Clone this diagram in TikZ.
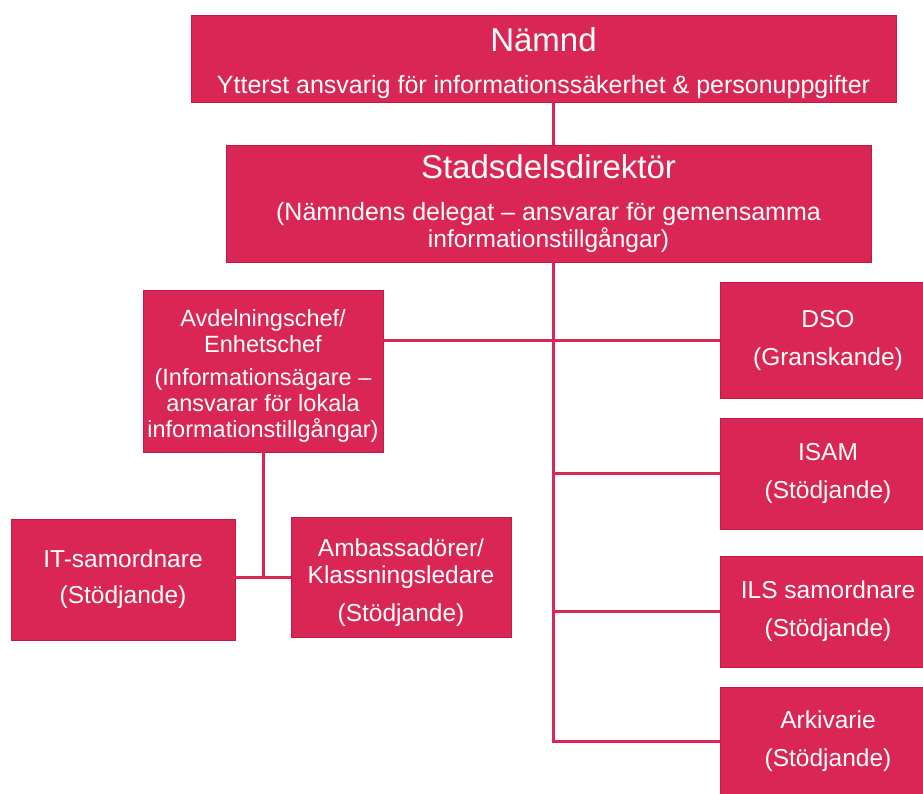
\documentclass[tikz,border=0pt]{standalone}
\usepackage{fontspec}
\setmainfont{Liberation Sans}
\usetikzlibrary{positioning}

\definecolor{orgred}{RGB}{218,38,84}
\definecolor{orgedge}{RGB}{196,24,68}

\newcommand{\toptitle}{\fontsize{33}{38}\selectfont}

\tikzset{
  orgbox/.style={fill=orgred, draw=orgedge, line width=0.8pt, text=white,
    align=center, inner sep=0pt, font=\fontsize{24.5}{27}\selectfont},
  sidebox/.style={orgbox, minimum width=216pt, font=\fontsize{24.5}{38}\selectfont},
  orgline/.style={draw=orgred, line width=3pt}
}

\begin{document}
\begin{tikzpicture}[x=1pt, y=-1pt]

  \useasboundingbox (0,0) rectangle (923,793);
  \clip (0,0) rectangle (923,793);
  \fill[white] (0,0) rectangle (923,793);

  % -- Top levels --
  \node[orgbox, minimum width=705pt, minimum height=87pt] (nmd) at (543.5,58.5)
    {\rule{0pt}{33pt}{\toptitle N\"amnd}\\[15pt]\fontsize{25}{28}\selectfont Ytterst ansvarig f\"or informationss\"akerhet \& personuppgifter};
  \node[orgbox, minimum width=645pt, minimum height=117pt] (sdd) at (548.5,203.5)
    {{\toptitle Stadsdelsdirekt\"or}\\[15pt]\fontsize{25}{27}\selectfont (N\"amndens delegat -- ansvarar f\"or gemensamma\\ informationstillg\aa ngar)};

  % -- Left branch --
  \node[orgbox, minimum width=240pt, minimum height=162pt, font=\fontsize{23.5}{26}\selectfont] (avd) at (263,371)
    {\rule{0pt}{26pt}Avdelningschef/\\Enhetschef\\[7pt](Informations\"agare --\\ansvarar f\"or lokala\\informationstillg\aa ngar)};
  \node[orgbox, minimum width=224pt, minimum height=121pt, font=\fontsize{24.5}{36}\selectfont] (itsam) at (123,579.5)
    {IT-samordnare\\(St\"odjande)};
  \node[orgbox, minimum width=220pt, minimum height=120pt] (amb) at (401,577)
    {\rule{0pt}{29pt}Ambassad\"orer/\\Klassningsledare\\[11pt](St\"odjande)};

  % -- Right column --
  \node[sidebox, minimum height=116pt] (dso) at (828,340) {DSO\\(Granskande)};
  \node[sidebox, minimum height=111pt] (isam) at (828,473.5) {ISAM\\(St\"odjande)};
  \node[sidebox, minimum height=111pt] (ils) at (828,611.5) {ILS samordnare\\(St\"odjande)};
  \node[sidebox, minimum height=108pt] (ark) at (828,741) {Arkivarie\\(St\"odjande)};

  % -- Connectors --
  \coordinate (trunk) at (553,0);
  \draw[orgline] (nmd.south -| trunk) -- (sdd.north -| trunk);
  \draw[orgline] (sdd.south -| trunk) -- (ark.west -| trunk) -- (ark.west);
  \draw[orgline] (avd.east |- dso.west) -- (dso.west);
  \draw[orgline] (isam.west -| trunk) -- (isam.west);
  \draw[orgline] (ils.west -| trunk) -- (ils.west);
  \draw[orgline] (avd.south) -- (avd.south |- amb.west);
  \draw[orgline] (itsam.east |- amb.west) -- (amb.west);

\end{tikzpicture}
\end{document}
